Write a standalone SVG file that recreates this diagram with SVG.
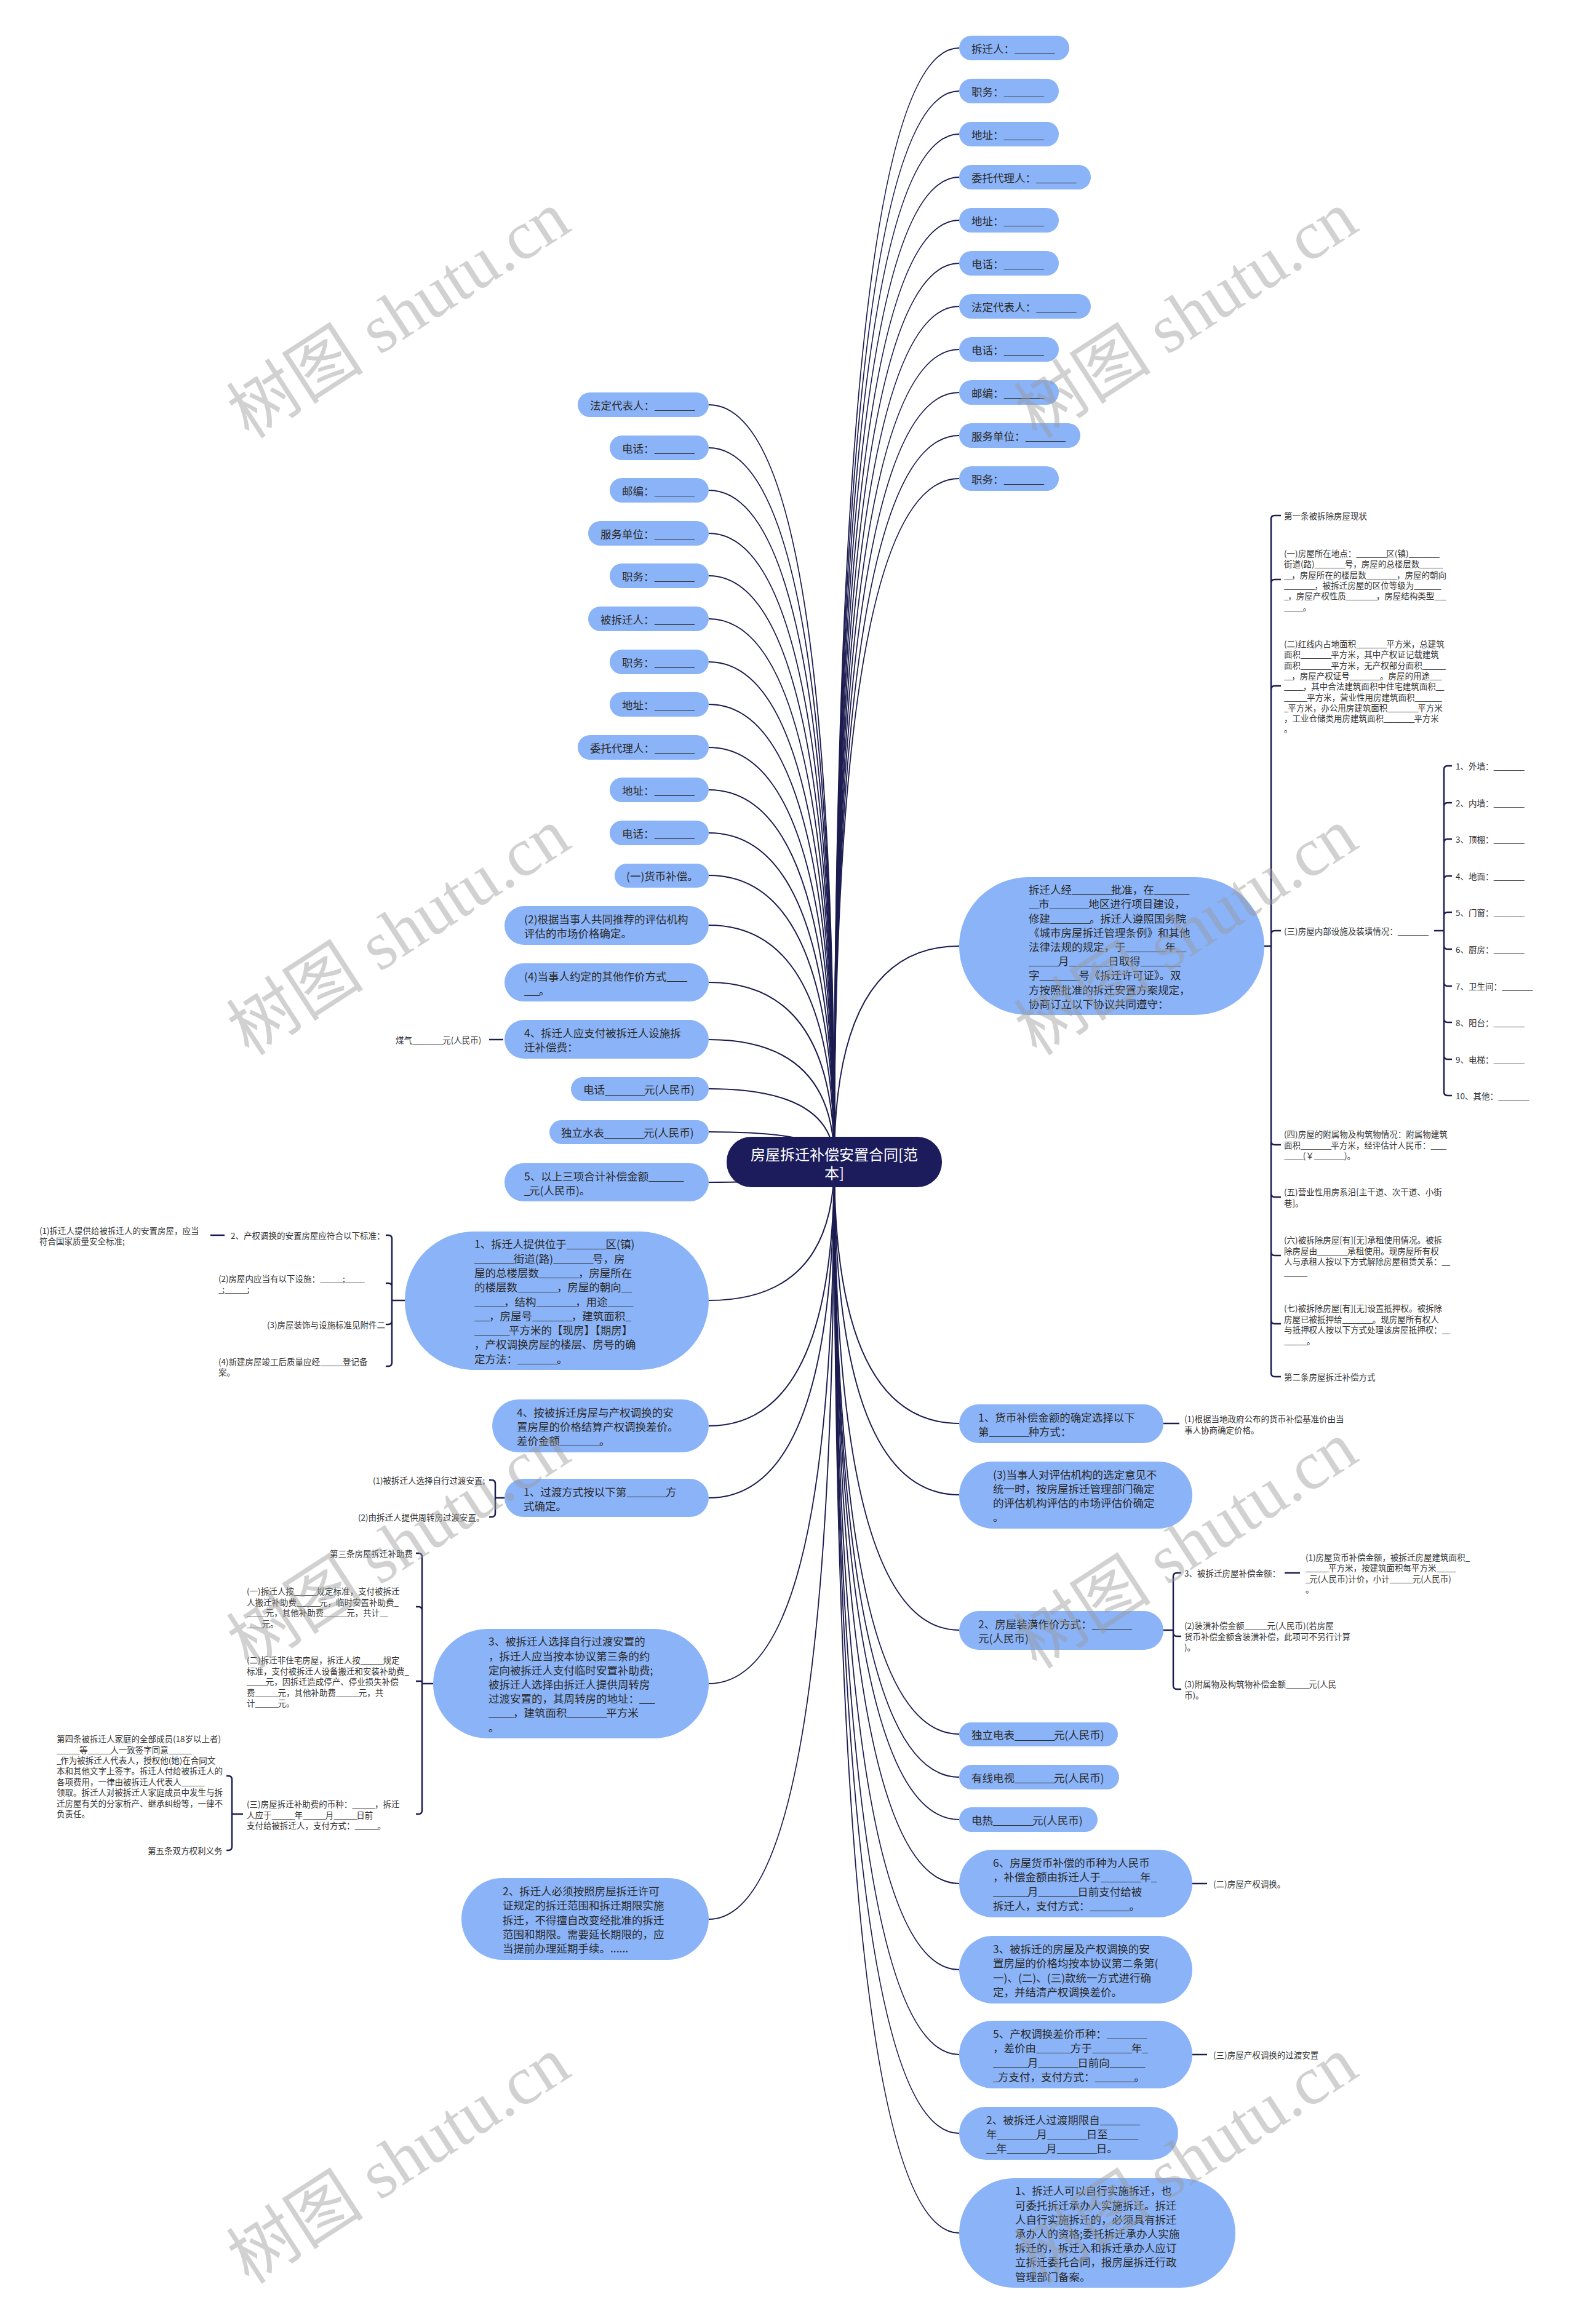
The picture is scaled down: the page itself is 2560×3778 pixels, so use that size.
<svg xmlns="http://www.w3.org/2000/svg" width="2560" height="3778" viewBox="0 0 2560 3778">
<style>
text{font-family:"Noto Sans CJK SC","Noto Sans",sans-serif;dominant-baseline:central}
tspan{dominant-baseline:central}
.n rect{fill:#8bb3f7}
.t{font-size:17.5px;fill:#2a2a2a}
.s{font-size:13.5px;fill:#333}
.t .u{letter-spacing:-1.8px}
.s .u{letter-spacing:-1.4px}
.c{fill:none;stroke:#1c1c50;stroke-width:2}
.b{fill:none;stroke:#1c1c50;stroke-width:2.5}
.wm{font-family:"Liberation Serif","Noto Sans CJK SC",serif;font-size:112px;fill:#9a9a9a;fill-opacity:0.45}
</style>
<rect width="2560" height="3778" fill="#fff"/>
<g id="connectors">
<path class="c" d="M1356 1889 Q1356 78 1559 78"/>
<path class="c" d="M1356 1889 Q1356 148 1559 148"/>
<path class="c" d="M1356 1889 Q1356 218 1559 218"/>
<path class="c" d="M1356 1889 Q1356 288 1559 288"/>
<path class="c" d="M1356 1889 Q1356 358 1559 358"/>
<path class="c" d="M1356 1889 Q1356 428 1559 428"/>
<path class="c" d="M1356 1889 Q1356 498 1559 498"/>
<path class="c" d="M1356 1889 Q1356 568 1559 568"/>
<path class="c" d="M1356 1889 Q1356 638 1559 638"/>
<path class="c" d="M1356 1889 Q1356 708 1559 708"/>
<path class="c" d="M1356 1889 Q1356 778 1559 778"/>
<path class="c" d="M1356 1889 Q1356 1538 1559 1538"/>
<path class="c" d="M1356 1889 Q1356 2314 1559 2314"/>
<path class="c" d="M1356 1889 Q1356 2430 1559 2430"/>
<path class="c" d="M1356 1889 Q1356 2650 1559 2650"/>
<path class="c" d="M1356 1889 Q1356 2819 1559 2819"/>
<path class="c" d="M1356 1889 Q1356 2889 1559 2889"/>
<path class="c" d="M1356 1889 Q1356 2958 1559 2958"/>
<path class="c" d="M1356 1889 Q1356 3062 1559 3062"/>
<path class="c" d="M1356 1889 Q1356 3202 1559 3202"/>
<path class="c" d="M1356 1889 Q1356 3340 1559 3340"/>
<path class="c" d="M1356 1889 Q1356 3468 1559 3468"/>
<path class="c" d="M1356 1889 Q1356 3630 1559 3630"/>
<path class="c" d="M1356 1889 Q1356 658 1152 658"/>
<path class="c" d="M1356 1889 Q1356 728 1152 728"/>
<path class="c" d="M1356 1889 Q1356 797 1152 797"/>
<path class="c" d="M1356 1889 Q1356 867 1152 867"/>
<path class="c" d="M1356 1889 Q1356 936 1152 936"/>
<path class="c" d="M1356 1889 Q1356 1006 1152 1006"/>
<path class="c" d="M1356 1889 Q1356 1076 1152 1076"/>
<path class="c" d="M1356 1889 Q1356 1145 1152 1145"/>
<path class="c" d="M1356 1889 Q1356 1215 1152 1215"/>
<path class="c" d="M1356 1889 Q1356 1284 1152 1284"/>
<path class="c" d="M1356 1889 Q1356 1354 1152 1354"/>
<path class="c" d="M1356 1889 Q1356 1423 1152 1423"/>
<path class="c" d="M1356 1889 Q1356 1504 1152 1504"/>
<path class="c" d="M1356 1889 Q1356 1597 1152 1597"/>
<path class="c" d="M1356 1889 Q1356 1690 1152 1690"/>
<path class="c" d="M1356 1889 Q1356 1770 1152 1770"/>
<path class="c" d="M1356 1889 Q1356 1840 1152 1840"/>
<path class="c" d="M1356 1889 Q1356 1922 1152 1922"/>
<path class="c" d="M1356 1889 Q1356 2114 1152 2114"/>
<path class="c" d="M1356 1889 Q1356 2318 1152 2318"/>
<path class="c" d="M1356 1889 Q1356 2435 1152 2435"/>
<path class="c" d="M1356 1889 Q1356 2737 1152 2737"/>
<path class="c" d="M1356 1889 Q1356 3120 1152 3120"/>
<path class="b" d="M2055 1538 H2066 M2066 1538 V844 Q2066 838 2072 838 H2082 M2066 1538 V948 Q2066 942 2072 942 H2082 M2066 1538 V1121 Q2066 1115 2072 1115 H2082 M2066 1538 V1519 Q2066 1513 2072 1513 H2082 M2066 1538 V1855 Q2066 1861 2072 1861 H2082 M2066 1538 V1940 Q2066 1946 2072 1946 H2082 M2066 1538 V2035 Q2066 2041 2072 2041 H2082 M2066 1538 V2146 Q2066 2152 2072 2152 H2082 M2066 1538 V2232 Q2066 2238 2072 2238 H2082"/>
<path class="b" d="M2331 1513 H2347 M2347 1513 V1251 Q2347 1245 2353 1245 H2360 M2347 1513 V1311 Q2347 1305 2353 1305 H2360 M2347 1513 V1370 Q2347 1364 2353 1364 H2360 M2347 1513 V1430 Q2347 1424 2353 1424 H2360 M2347 1513 V1489 Q2347 1483 2353 1483 H2360 M2347 1513 V1537 Q2347 1543 2353 1543 H2360 M2347 1513 V1597 Q2347 1603 2353 1603 H2360 M2347 1513 V1656 Q2347 1662 2353 1662 H2360 M2347 1513 V1716 Q2347 1722 2353 1722 H2360 M2347 1513 V1775 Q2347 1781 2353 1781 H2360"/>
<path class="b" d="M1891 2314 H1917"/>
<path class="b" d="M1891 2650 H1907 M1907 2650 V2563 Q1907 2557 1913 2557 H1920 M1907 2650 V2654 Q1907 2660 1913 2660 H1920 M1907 2650 V2740 Q1907 2746 1913 2746 H1920"/>
<path class="b" d="M2088 2557 H2113"/>
<path class="b" d="M1938 3062 H1962"/>
<path class="b" d="M1938 3340 H1962"/>
<path class="b" d="M818 1690 H795"/>
<path class="b" d="M658 2114 H637 M637 2114 V2014 Q637 2008 631 2008 H627 M637 2114 V2092 Q637 2086 631 2086 H627 M637 2114 V2147 Q637 2153 631 2153 H627 M637 2114 V2215 Q637 2221 631 2221 H627"/>
<path class="b" d="M365 2008 H342"/>
<path class="b" d="M820 2435 H805 M805 2435 V2412 Q805 2406 799 2406 H795 M805 2435 V2460 Q805 2466 799 2466 H795"/>
<path class="b" d="M704 2737 H686 M686 2737 V2531 Q686 2525 680 2525 H676 M686 2737 V2618 Q686 2612 680 2612 H676 M686 2733 H676 M686 2737 V2943 Q686 2949 680 2949 H676"/>
<path class="b" d="M395 2949 H377 M377 2949 V2893 Q377 2887 371 2887 H368 M377 2949 V3002 Q377 3008 371 3008 H368"/>
</g>
<g id="root"><rect x="1181" y="1848" width="350" height="82" rx="40" fill="#1c1c5c"/><text x="1356" y="1875" font-size="24" fill="#fff" text-anchor="middle">房屋拆迁补偿安置合同[范</text><text x="1356" y="1905" font-size="24" fill="#fff" text-anchor="middle">本]</text></g>
<g id="r1" class="n"><rect x="1559" y="58" width="179" height="40" rx="20"/><text class="t" x="1579" y="78">拆迁人：<tspan class="u">________</tspan></text></g>
<g id="r2" class="n"><rect x="1559" y="128" width="162" height="40" rx="20"/><text class="t" x="1579" y="148">职务：<tspan class="u">________</tspan></text></g>
<g id="r3" class="n"><rect x="1559" y="198" width="162" height="40" rx="20"/><text class="t" x="1579" y="218">地址：<tspan class="u">________</tspan></text></g>
<g id="r4" class="n"><rect x="1559" y="268" width="214" height="40" rx="20"/><text class="t" x="1579" y="288">委托代理人：<tspan class="u">________</tspan></text></g>
<g id="r5" class="n"><rect x="1559" y="338" width="162" height="40" rx="20"/><text class="t" x="1579" y="358">地址：<tspan class="u">________</tspan></text></g>
<g id="r6" class="n"><rect x="1559" y="408" width="162" height="40" rx="20"/><text class="t" x="1579" y="428">电话：<tspan class="u">________</tspan></text></g>
<g id="r7" class="n"><rect x="1559" y="478" width="214" height="40" rx="20"/><text class="t" x="1579" y="498">法定代表人：<tspan class="u">________</tspan></text></g>
<g id="r8" class="n"><rect x="1559" y="548" width="162" height="40" rx="20"/><text class="t" x="1579" y="568">电话：<tspan class="u">________</tspan></text></g>
<g id="r9" class="n"><rect x="1559" y="618" width="162" height="40" rx="20"/><text class="t" x="1579" y="638">邮编：<tspan class="u">________</tspan></text></g>
<g id="r10" class="n"><rect x="1559" y="688" width="197" height="40" rx="20"/><text class="t" x="1579" y="708">服务单位：<tspan class="u">________</tspan></text></g>
<g id="r11" class="n"><rect x="1559" y="758" width="162" height="40" rx="20"/><text class="t" x="1579" y="778">职务：<tspan class="u">________</tspan></text></g>
<g id="l1" class="n"><rect x="939" y="638" width="213" height="40" rx="20"/><text class="t" x="959" y="658">法定代表人：<tspan class="u">________</tspan></text></g>
<g id="l2" class="n"><rect x="991" y="708" width="161" height="40" rx="20"/><text class="t" x="1011" y="728">电话：<tspan class="u">________</tspan></text></g>
<g id="l3" class="n"><rect x="991" y="777" width="161" height="40" rx="20"/><text class="t" x="1011" y="797">邮编：<tspan class="u">________</tspan></text></g>
<g id="l4" class="n"><rect x="956" y="847" width="196" height="40" rx="20"/><text class="t" x="976" y="867">服务单位：<tspan class="u">________</tspan></text></g>
<g id="l5" class="n"><rect x="991" y="916" width="161" height="40" rx="20"/><text class="t" x="1011" y="936">职务：<tspan class="u">________</tspan></text></g>
<g id="l6" class="n"><rect x="956" y="986" width="196" height="40" rx="20"/><text class="t" x="976" y="1006">被拆迁人：<tspan class="u">________</tspan></text></g>
<g id="l7" class="n"><rect x="991" y="1056" width="161" height="40" rx="20"/><text class="t" x="1011" y="1076">职务：<tspan class="u">________</tspan></text></g>
<g id="l8" class="n"><rect x="991" y="1125" width="161" height="40" rx="20"/><text class="t" x="1011" y="1145">地址：<tspan class="u">________</tspan></text></g>
<g id="l9" class="n"><rect x="939" y="1195" width="213" height="40" rx="20"/><text class="t" x="959" y="1215">委托代理人：<tspan class="u">________</tspan></text></g>
<g id="l10" class="n"><rect x="991" y="1264" width="161" height="40" rx="20"/><text class="t" x="1011" y="1284">地址：<tspan class="u">________</tspan></text></g>
<g id="l11" class="n"><rect x="991" y="1334" width="161" height="40" rx="20"/><text class="t" x="1011" y="1354">电话：<tspan class="u">________</tspan></text></g>
<g id="l12" class="n"><rect x="999" y="1404" width="153" height="39" rx="19.5"/><text class="t" x="1018" y="1423.5">(一)货币补偿。</text></g>
<g id="l13" class="n"><rect x="820" y="1473" width="332" height="63" rx="31.5"/><text class="t"><tspan x="852" y="1493">(2)根据当事人共同推荐的评估机构</tspan><tspan x="852" y="1516">评估的市场价格确定。</tspan></text></g>
<g id="l14" class="n"><rect x="820" y="1566" width="332" height="62" rx="31"/><text class="t"><tspan x="852" y="1585.5">(4)当事人约定的其他作价方式<tspan class="u">____</tspan></tspan><tspan x="852" y="1608.5"><tspan class="u">___</tspan>。</tspan></text></g>
<g id="l15" class="n"><rect x="820" y="1658" width="332" height="63" rx="31.5"/><text class="t"><tspan x="852" y="1678">4、拆迁人应支付被拆迁人设施拆</tspan><tspan x="852" y="1701">迁补偿费：</tspan></text></g>
<g id="l15a"><text class="s" x="643" y="1690">煤气<tspan class="u">________</tspan>元(人民币)</text></g>
<g id="l16" class="n"><rect x="928" y="1751" width="224" height="39" rx="19.5"/><text class="t" x="948" y="1770.5">电话<tspan class="u">________</tspan>元(人民币)</text></g>
<g id="l17" class="n"><rect x="893" y="1821" width="259" height="39" rx="19.5"/><text class="t" x="912" y="1840.5">独立水表<tspan class="u">________</tspan>元(人民币)</text></g>
<g id="l18" class="n"><rect x="820" y="1891" width="332" height="62" rx="31"/><text class="t"><tspan x="852" y="1910.5">5、以上三项合计补偿金额<tspan class="u">_______</tspan></tspan><tspan x="852" y="1933.5"><tspan class="u">_</tspan>元(人民币)。</tspan></text></g>
<g id="l19" class="n"><rect x="658" y="2002" width="494" height="225" rx="112"/><text class="t"><tspan x="771" y="2021.3">1、拆迁人提供位于<tspan class="u">________</tspan>区(镇)</tspan><tspan x="771" y="2044.6"><tspan class="u">________</tspan>街道(路)<tspan class="u">________</tspan>号，房</tspan><tspan x="771" y="2067.9">屋的总楼层数<tspan class="u">________</tspan>，房屋所在</tspan><tspan x="771" y="2091.2">的楼层数<tspan class="u">________</tspan>，房屋的朝向<tspan class="u">__</tspan></tspan><tspan x="771" y="2114.5"><tspan class="u">______</tspan>，结构<tspan class="u">________</tspan>，用途<tspan class="u">_____</tspan></tspan><tspan x="771" y="2137.8"><tspan class="u">___</tspan>，房屋号<tspan class="u">________</tspan>，建筑面积<tspan class="u">_</tspan></tspan><tspan x="771" y="2161.1"><tspan class="u">_______</tspan>平方米的【现房】【期房】</tspan><tspan x="771" y="2184.4">，产权调换房屋的楼层、房号的确</tspan><tspan x="771" y="2207.7">定方法：<tspan class="u">________</tspan>。</tspan></text></g>
<g id="l19a"><text class="s" x="375" y="2008">2、产权调换的安置房屋应符合以下标准：</text></g>
<g id="l19a1"><text class="s"><tspan x="64" y="1999.5">(1)拆迁人提供给被拆迁人的安置房屋，应当</tspan><tspan x="64" y="2017">符合国家质量安全标准;</tspan></text></g>
<g id="l19b"><text class="s"><tspan x="355" y="2077.5">(2)房屋内应当有以下设施：<tspan class="u">______</tspan>;<tspan class="u">_____</tspan></tspan><tspan x="355" y="2095"><tspan class="u">_</tspan>;<tspan class="u">______</tspan>;</tspan></text></g>
<g id="l19c"><text class="s" x="434" y="2153">(3)房屋装饰与设施标准见附件二</text></g>
<g id="l19d"><text class="s"><tspan x="355" y="2212.5">(4)新建房屋竣工后质量应经<tspan class="u">______</tspan>登记备</tspan><tspan x="355" y="2230">案。</tspan></text></g>
<g id="l20" class="n"><rect x="800" y="2275" width="352" height="86" rx="43"/><text class="t"><tspan x="840" y="2294.8">4、按被拆迁房屋与产权调换的安</tspan><tspan x="840" y="2318">置房屋的价格结算产权调换差价。</tspan><tspan x="840" y="2341.2">差价金额<tspan class="u">________</tspan>。</tspan></text></g>
<g id="l21" class="n"><rect x="820" y="2404" width="332" height="62" rx="31"/><text class="t"><tspan x="851" y="2423.5">1、过渡方式按以下第<tspan class="u">________</tspan>方</tspan><tspan x="851" y="2446.5">式确定。</tspan></text></g>
<g id="l21a"><text class="s" x="606" y="2406">(1)被拆迁人选择自行过渡安置;</text></g>
<g id="l21b"><text class="s" x="582" y="2466">(2)由拆迁人提供周转房过渡安置。</text></g>
<g id="l22" class="n"><rect x="704" y="2648" width="448" height="178" rx="89"/><text class="t"><tspan x="794" y="2667.4">3、被拆迁人选择自行过渡安置的</tspan><tspan x="794" y="2690.6">，拆迁人应当按本协议第三条的约</tspan><tspan x="794" y="2713.8">定向被拆迁人支付临时安置补助费;</tspan><tspan x="794" y="2737">被拆迁人选择由拆迁人提供周转房</tspan><tspan x="794" y="2760.2">过渡安置的，其周转房的地址：<tspan class="u">___</tspan></tspan><tspan x="794" y="2783.4"><tspan class="u">_____</tspan>，建筑面积<tspan class="u">________</tspan>平方米</tspan><tspan x="794" y="2806.6">。</tspan></text></g>
<g id="l22a"><text class="s" x="536" y="2525">第三条房屋拆迁补助费</text></g>
<g id="l22b"><text class="s"><tspan x="401" y="2586">(一)拆迁人按<tspan class="u">______</tspan>规定标准，支付被拆迁</tspan><tspan x="401" y="2603.5">人搬迁补助费<tspan class="u">______</tspan>元，临时安置补助费<tspan class="u">_</tspan></tspan><tspan x="401" y="2621"><tspan class="u">_____</tspan>元，其他补助费<tspan class="u">______</tspan>元，共计<tspan class="u">__</tspan></tspan><tspan x="401" y="2638.5"><tspan class="u">____</tspan>元。</tspan></text></g>
<g id="l22c"><text class="s"><tspan x="401" y="2698">(二)拆迁非住宅房屋，拆迁人按<tspan class="u">______</tspan>规定</tspan><tspan x="401" y="2715.5">标准，支付被拆迁人设备搬迁和安装补助费<tspan class="u">_</tspan></tspan><tspan x="401" y="2733"><tspan class="u">_____</tspan>元，因拆迁造成停产、停业损失补偿</tspan><tspan x="401" y="2750.5">费<tspan class="u">______</tspan>元，其他补助费<tspan class="u">______</tspan>元，共</tspan><tspan x="401" y="2768">计<tspan class="u">______</tspan>元。</tspan></text></g>
<g id="l22d"><text class="s"><tspan x="401" y="2932">(三)房屋拆迁补助费的币种：<tspan class="u">______</tspan>，拆迁</tspan><tspan x="401" y="2949.5">人应于<tspan class="u">______</tspan>年<tspan class="u">______</tspan>月<tspan class="u">______</tspan>日前</tspan><tspan x="401" y="2967">支付给被拆迁人，支付方式：<tspan class="u">______</tspan>。</tspan></text></g>
<g id="l22d1"><text class="s"><tspan x="92" y="2826">第四条被拆迁人家庭的全部成员(18岁以上者)</tspan><tspan x="92" y="2843.5"><tspan class="u">______</tspan>等<tspan class="u">______</tspan>人一致签字同意<tspan class="u">______</tspan></tspan><tspan x="92" y="2861"><tspan class="u">_</tspan>作为被拆迁人代表人，授权他(她)在合同文</tspan><tspan x="92" y="2878.4">本和其他文字上签字。拆迁人付给被拆迁人的</tspan><tspan x="92" y="2895.8">各项费用，一律由被拆迁人代表人<tspan class="u">______</tspan></tspan><tspan x="92" y="2913.3">领取。拆迁人对被拆迁人家庭成员中发生与拆</tspan><tspan x="92" y="2930.7">迁房屋有关的分家析产、继承纠纷等，一律不</tspan><tspan x="92" y="2948.2">负责任。</tspan></text></g>
<g id="l22d2"><text class="s" x="240" y="3008">第五条双方权利义务</text></g>
<g id="l23" class="n"><rect x="750" y="3053" width="402" height="133" rx="66.5"/><text class="t"><tspan x="817" y="3073.1">2、拆迁人必须按照房屋拆迁许可</tspan><tspan x="817" y="3096.3">证规定的拆迁范围和拆迁期限实施</tspan><tspan x="817" y="3119.5">拆迁，不得擅自改变经批准的拆迁</tspan><tspan x="817" y="3142.7">范围和期限。需要延长期限的，应</tspan><tspan x="817" y="3165.9">当提前办理延期手续。......</tspan></text></g>
<g id="r12" class="n"><rect x="1559" y="1426" width="496" height="224" rx="112"/><text class="t"><tspan x="1672" y="1445.2">拆迁人经<tspan class="u">________</tspan>批准，在<tspan class="u">_______</tspan></tspan><tspan x="1672" y="1468.4"><tspan class="u">__</tspan>市<tspan class="u">________</tspan>地区进行项目建设，</tspan><tspan x="1672" y="1491.6">修建<tspan class="u">________</tspan>。拆迁人遵照国务院</tspan><tspan x="1672" y="1514.8">《城市房屋拆迁管理条例》和其他</tspan><tspan x="1672" y="1538">法律法规的规定，于<tspan class="u">________</tspan>年<tspan class="u">__</tspan></tspan><tspan x="1672" y="1561.2"><tspan class="u">______</tspan>月<tspan class="u">________</tspan>日取得<tspan class="u">________</tspan></tspan><tspan x="1672" y="1584.4">字<tspan class="u">________</tspan>号《拆迁许可证》。双</tspan><tspan x="1672" y="1607.6">方按照批准的拆迁安置方案规定，</tspan><tspan x="1672" y="1630.8">协商订立以下协议共同遵守：</tspan></text></g>
<g id="r12a"><text class="s" x="2087" y="838">第一条被拆除房屋现状</text></g>
<g id="r12b"><text class="s"><tspan x="2087" y="899">(一)房屋所在地点：<tspan class="u">________</tspan>区(镇)<tspan class="u">________</tspan></tspan><tspan x="2087" y="916.3">街道(路)<tspan class="u">________</tspan>号，房屋的总楼层数<tspan class="u">______</tspan></tspan><tspan x="2087" y="933.6"><tspan class="u">__</tspan>，房屋所在的楼层数<tspan class="u">________</tspan>，房屋的朝向</tspan><tspan x="2087" y="950.9"><tspan class="u">________</tspan>，被拆迁房屋的区位等级为<tspan class="u">_______</tspan></tspan><tspan x="2087" y="968.2"><tspan class="u">_</tspan>，房屋产权性质<tspan class="u">________</tspan>，房屋结构类型<tspan class="u">___</tspan></tspan><tspan x="2087" y="985.5"><tspan class="u">_____</tspan>。</tspan></text></g>
<g id="r12c"><text class="s"><tspan x="2087" y="1046">(二)红线内占地面积<tspan class="u">________</tspan>平方米，总建筑</tspan><tspan x="2087" y="1063.3">面积<tspan class="u">________</tspan>平方米，其中产权证记载建筑</tspan><tspan x="2087" y="1080.6">面积<tspan class="u">________</tspan>平方米，无产权部分面积<tspan class="u">______</tspan></tspan><tspan x="2087" y="1097.9"><tspan class="u">__</tspan>，房屋产权证号<tspan class="u">________</tspan>。房屋的用途<tspan class="u">___</tspan></tspan><tspan x="2087" y="1115.2"><tspan class="u">_____</tspan>，其中合法建筑面积中住宅建筑面积<tspan class="u">__</tspan></tspan><tspan x="2087" y="1132.5"><tspan class="u">______</tspan>平方米，营业性用房建筑面积<tspan class="u">_______</tspan></tspan><tspan x="2087" y="1149.8"><tspan class="u">_</tspan>平方米，办公用房建筑面积<tspan class="u">________</tspan>平方米</tspan><tspan x="2087" y="1167.1">，工业仓储类用房建筑面积<tspan class="u">________</tspan>平方米</tspan><tspan x="2087" y="1184.4">。</tspan></text></g>
<g id="r12d"><text class="s" x="2087" y="1513">(三)房屋内部设施及装璜情况：<tspan class="u">________</tspan></text></g>
<g id="r12d1"><text class="s" x="2366" y="1245">1、外墙：<tspan class="u">________</tspan></text></g>
<g id="r12d2"><text class="s" x="2366" y="1305">2、内墙：<tspan class="u">________</tspan></text></g>
<g id="r12d3"><text class="s" x="2366" y="1364">3、顶棚：<tspan class="u">________</tspan></text></g>
<g id="r12d4"><text class="s" x="2366" y="1424">4、地面：<tspan class="u">________</tspan></text></g>
<g id="r12d5"><text class="s" x="2366" y="1483">5、门窗：<tspan class="u">________</tspan></text></g>
<g id="r12d6"><text class="s" x="2366" y="1543">6、厨房：<tspan class="u">________</tspan></text></g>
<g id="r12d7"><text class="s" x="2366" y="1603">7、卫生间：<tspan class="u">________</tspan></text></g>
<g id="r12d8"><text class="s" x="2366" y="1662">8、阳台：<tspan class="u">________</tspan></text></g>
<g id="r12d9"><text class="s" x="2366" y="1722">9、电梯：<tspan class="u">________</tspan></text></g>
<g id="r12d10"><text class="s" x="2366" y="1781">10、其他：<tspan class="u">________</tspan></text></g>
<g id="r12e"><text class="s"><tspan x="2087" y="1843">(四)房屋的附属物及构筑物情况：附属物建筑</tspan><tspan x="2087" y="1860.5">面积<tspan class="u">________</tspan>平方米，经评估计人民币：<tspan class="u">____</tspan></tspan><tspan x="2087" y="1878"><tspan class="u">_____</tspan>(￥<tspan class="u">________</tspan>)。</tspan></text></g>
<g id="r12f"><text class="s"><tspan x="2087" y="1937">(五)营业性用房系沿[主干道、次干道、小街</tspan><tspan x="2087" y="1954.5">巷]。</tspan></text></g>
<g id="r12g"><text class="s"><tspan x="2087" y="2015">(六)被拆除房屋[有][无]承租使用情况。被拆</tspan><tspan x="2087" y="2032.5">除房屋由<tspan class="u">________</tspan>承租使用。现房屋所有权</tspan><tspan x="2087" y="2050">人与承租人按以下方式解除房屋租赁关系：<tspan class="u">__</tspan></tspan><tspan x="2087" y="2067.5"><tspan class="u">______</tspan></tspan></text></g>
<g id="r12h"><text class="s"><tspan x="2087" y="2126">(七)被拆除房屋[有][无]设置抵押权。被拆除</tspan><tspan x="2087" y="2143.5">房屋已被抵押给<tspan class="u">________</tspan>。现房屋所有权人</tspan><tspan x="2087" y="2161">与抵押权人按以下方式处理该房屋抵押权：<tspan class="u">__</tspan></tspan><tspan x="2087" y="2178.5"><tspan class="u">______</tspan>。</tspan></text></g>
<g id="r12i"><text class="s" x="2087" y="2238">第二条房屋拆迁补偿方式</text></g>
<g id="r13" class="n"><rect x="1559" y="2283" width="332" height="63" rx="31.5"/><text class="t"><tspan x="1590" y="2303">1、货币补偿金额的确定选择以下</tspan><tspan x="1590" y="2326">第<tspan class="u">________</tspan>种方式：</tspan></text></g>
<g id="r13a"><text class="s"><tspan x="1925" y="2306">(1)根据当地政府公布的货币补偿基准价由当</tspan><tspan x="1925" y="2324">事人协商确定价格。</tspan></text></g>
<g id="r14" class="n"><rect x="1559" y="2376" width="379" height="109" rx="54.5"/><text class="t"><tspan x="1614" y="2395.7">(3)当事人对评估机构的选定意见不</tspan><tspan x="1614" y="2418.9">统一时，按房屋拆迁管理部门确定</tspan><tspan x="1614" y="2442.1">的评估机构评估的市场评估价确定</tspan><tspan x="1614" y="2465.3">。</tspan></text></g>
<g id="r15" class="n"><rect x="1559" y="2619" width="332" height="63" rx="31.5"/><text class="t"><tspan x="1590" y="2639">2、房屋装潢作价方式：<tspan class="u">________</tspan></tspan><tspan x="1590" y="2662">元(人民币)</tspan></text></g>
<g id="r15a"><text class="s" x="1925" y="2557">3、被拆迁房屋补偿金额：</text></g>
<g id="r15a1"><text class="s"><tspan x="2122" y="2531">(1)房屋货币补偿金额，被拆迁房屋建筑面积<tspan class="u">_</tspan></tspan><tspan x="2122" y="2548.4"><tspan class="u">______</tspan>平方米，按建筑面积每平方米<tspan class="u">_____</tspan></tspan><tspan x="2122" y="2565.8"><tspan class="u">_</tspan>元(人民币)计价，小计<tspan class="u">______</tspan>元(人民币)</tspan><tspan x="2122" y="2583.2">。</tspan></text></g>
<g id="r15b"><text class="s"><tspan x="1925" y="2642">(2)装潢补偿金额<tspan class="u">______</tspan>元(人民币)(若房屋</tspan><tspan x="1925" y="2659.5">货币补偿金额含装潢补偿，此项可不另行计算</tspan><tspan x="1925" y="2677">)。</tspan></text></g>
<g id="r15c"><text class="s"><tspan x="1925" y="2737">(3)附属物及构筑物补偿金额<tspan class="u">______</tspan>元(人民</tspan><tspan x="1925" y="2754.5">币)。</tspan></text></g>
<g id="r16" class="n"><rect x="1559" y="2800" width="258" height="39" rx="19.5"/><text class="t" x="1579" y="2819.5">独立电表<tspan class="u">________</tspan>元(人民币)</text></g>
<g id="r17" class="n"><rect x="1559" y="2869" width="260" height="40" rx="20"/><text class="t" x="1579" y="2889">有线电视<tspan class="u">________</tspan>元(人民币)</text></g>
<g id="r18" class="n"><rect x="1559" y="2938" width="225" height="40" rx="20"/><text class="t" x="1579" y="2958">电热<tspan class="u">________</tspan>元(人民币)</text></g>
<g id="r19" class="n"><rect x="1559" y="3007" width="379" height="110" rx="55"/><text class="t"><tspan x="1614" y="3027.2">6、房屋货币补偿的币种为人民币</tspan><tspan x="1614" y="3050.4">，补偿金额由拆迁人于<tspan class="u">________</tspan>年<tspan class="u">_</tspan></tspan><tspan x="1614" y="3073.6"><tspan class="u">_______</tspan>月<tspan class="u">________</tspan>日前支付给被</tspan><tspan x="1614" y="3096.8">拆迁人，支付方式：<tspan class="u">________</tspan>。</tspan></text></g>
<g id="r19a"><text class="s" x="1972" y="3062">(二)房屋产权调换。</text></g>
<g id="r20" class="n"><rect x="1559" y="3147" width="379" height="110" rx="55"/><text class="t"><tspan x="1614" y="3167.2">3、被拆迁的房屋及产权调换的安</tspan><tspan x="1614" y="3190.4">置房屋的价格均按本协议第二条第(</tspan><tspan x="1614" y="3213.6">一)、(二)、(三)款统一方式进行确</tspan><tspan x="1614" y="3236.8">定，并结清产权调换差价。</tspan></text></g>
<g id="r21" class="n"><rect x="1559" y="3285" width="379" height="110" rx="55"/><text class="t"><tspan x="1614" y="3305.2">5、产权调换差价币种：<tspan class="u">________</tspan></tspan><tspan x="1614" y="3328.4">，差价由<tspan class="u">_______</tspan>方于<tspan class="u">________</tspan>年<tspan class="u">_</tspan></tspan><tspan x="1614" y="3351.6"><tspan class="u">_______</tspan>月<tspan class="u">________</tspan>日前向<tspan class="u">_______</tspan></tspan><tspan x="1614" y="3374.8"><tspan class="u">_</tspan>方支付，支付方式：<tspan class="u">________</tspan>。</tspan></text></g>
<g id="r21a"><text class="s" x="1972" y="3340">(三)房屋产权调换的过渡安置</text></g>
<g id="r22" class="n"><rect x="1559" y="3425" width="356" height="86" rx="43"/><text class="t"><tspan x="1603" y="3444.8">2、被拆迁人过渡期限自<tspan class="u">________</tspan></tspan><tspan x="1603" y="3468">年<tspan class="u">________</tspan>月<tspan class="u">________</tspan>日至<tspan class="u">______</tspan></tspan><tspan x="1603" y="3491.2"><tspan class="u">__</tspan>年<tspan class="u">________</tspan>月<tspan class="u">________</tspan>日。</tspan></text></g>
<g id="r23" class="n"><rect x="1559" y="3541" width="449" height="178" rx="89"/><text class="t"><tspan x="1650" y="3560.4">1、拆迁人可以自行实施拆迁，也</tspan><tspan x="1650" y="3583.6">可委托拆迁承办人实施拆迁。拆迁</tspan><tspan x="1650" y="3606.8">人自行实施拆迁的，必须具有拆迁</tspan><tspan x="1650" y="3630">承办人的资格;委托拆迁承办人实施</tspan><tspan x="1650" y="3653.2">拆迁的，拆迁入和拆迁承办人应订</tspan><tspan x="1650" y="3676.4">立拆迁委托合同，报房屋拆迁行政</tspan><tspan x="1650" y="3699.6">管理部门备案。</tspan></text></g>
<g id="watermark">
<text class="wm" text-anchor="middle" transform="translate(648 512) rotate(-33)">树图 shutu.cn</text>
<text class="wm" text-anchor="middle" transform="translate(1928 512) rotate(-33)">树图 shutu.cn</text>
<text class="wm" text-anchor="middle" transform="translate(648 1515) rotate(-33)">树图 shutu.cn</text>
<text class="wm" text-anchor="middle" transform="translate(1928 1515) rotate(-33)">树图 shutu.cn</text>
<text class="wm" text-anchor="middle" transform="translate(648 2512) rotate(-33)">树图 shutu.cn</text>
<text class="wm" text-anchor="middle" transform="translate(1928 2512) rotate(-33)">树图 shutu.cn</text>
<text class="wm" text-anchor="middle" transform="translate(648 3512) rotate(-33)">树图 shutu.cn</text>
<text class="wm" text-anchor="middle" transform="translate(1928 3512) rotate(-33)">树图 shutu.cn</text>
</g>
</svg>
